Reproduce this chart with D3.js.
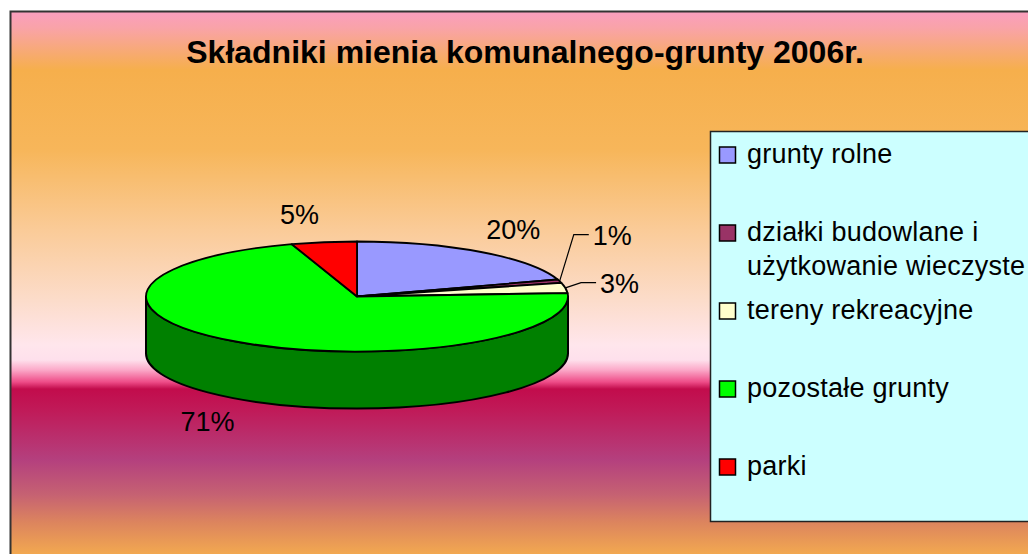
<!DOCTYPE html>
<html>
<head>
<meta charset="utf-8">
<script src="https://cdn.jsdelivr.net/npm/d3@7"></script>
<style>
  html, body { margin: 0; padding: 0; background: #ffffff; }
  svg { display: block; }
  text { font-family: "Liberation Sans", Arial, sans-serif; }
</style>
</head>
<body>
<svg id="chart" width="1028" height="554"></svg>
<script>
// ---- data ----
const title = "Składniki mienia komunalnego-grunty 2006r.";
const categories = ["grunty rolne", "działki budowlane i użytkowanie wieczyste", "tereny rekreacyjne", "pozostałe grunty", "parki"];
const values = [20, 1, 3, 71, 5];
const colors = ["#9999FF", "#993366", "#FFFFCC", "#00FF00", "#FF0000"];

// ---- layout ----
const W = 1028, H = 554;
const svg = d3.select("#chart");
const defs = svg.append("defs");

const grad = defs.append("linearGradient")
  .attr("id", "bg").attr("gradientUnits", "userSpaceOnUse")
  .attr("x1", 0).attr("y1", 11).attr("x2", 0).attr("y2", H);
[
  [11, "#FA9EC0"], [28, "#F9A3A8"], [70, "#F6AF4C"], [150, "#F7B65A"],
  [230, "#FACB98"], [300, "#FCDCCA"], [345, "#FFE6EC"], [360, "#FEE0EC"],
  [370, "#FBA8C8"], [382, "#EE4C88"], [389, "#C20C4C"], [410, "#C01A58"],
  [460, "#B4407E"], [495, "#C66272"], [522, "#DC845E"], [H, "#F2A850"]
].forEach(([y, c]) => grad.append("stop")
  .attr("offset", (y - 11) / (H - 11)).attr("stop-color", c));

// chart area frame
svg.append("rect")
  .attr("x", 10.5).attr("y", 11.5).attr("width", W + 10).attr("height", H + 10)
  .attr("fill", "url(#bg)").attr("stroke", "#333").attr("stroke-width", 2);

// title
svg.append("text")
  .attr("x", 525).attr("y", 63)
  .attr("text-anchor", "middle")
  .attr("font-weight", "bold").attr("font-size", 32).attr("fill", "#000")
  .text(title);

// ---- 3D pie ----
const cx = 357, cy = 296.5, rx = 211, ry = 55, depth = 57;
const total = d3.sum(values);
const color = d3.scaleOrdinal().domain(categories).range(colors);
const sideColor = c => { const k = d3.rgb(c); return d3.rgb(k.r * 0.5, k.g * 0.5, k.b * 0.5).formatHex(); };

const pie = d3.pie().sort(null).value(d => d.value).startAngle(0).endAngle(2 * Math.PI);
const arcs = pie(categories.map((c, i) => ({ name: c, value: values[i] })));

const pt = (a, dy = 0) => [cx + rx * Math.sin(a), cy - ry * Math.cos(a) + dy];

const g = svg.append("g");

// side walls (front half only)
arcs.forEach(d => {
  const a0 = Math.max(d.startAngle, Math.PI / 2);
  const a1 = Math.min(d.endAngle, 3 * Math.PI / 2);
  if (a1 <= a0) return;
  const p0 = pt(a0), p1 = pt(a1), q1 = pt(a1, depth), q0 = pt(a0, depth);
  const path = `M${p0}A${rx},${ry} 0 0 1 ${p1}L${q1}A${rx},${ry} 0 0 0 ${q0}Z`;
  g.append("path").attr("d", path)
    .attr("fill", sideColor(color(d.data.name)))
    .attr("stroke", "#000").attr("stroke-width", 2).attr("stroke-linejoin", "round");
});

// top faces
arcs.forEach(d => {
  const p0 = pt(d.startAngle), p1 = pt(d.endAngle);
  const large = (d.endAngle - d.startAngle) > Math.PI ? 1 : 0;
  const path = `M${cx},${cy}L${p0}A${rx},${ry} 0 ${large} 1 ${p1}Z`;
  g.append("path").attr("d", path)
    .attr("fill", color(d.data.name))
    .attr("stroke", "#000").attr("stroke-width", 1.8).attr("stroke-linejoin", "round");
});

// ---- data labels ----
const labelSize = 27;
const labels = arcs.map(d => {
  const mid = (d.startAngle + d.endAngle) / 2;
  const front = Math.cos(mid) < 0;
  return {
    d, mid,
    text: Math.round(d.value / total * 100) + "%",
    x: cx + rx * 1.26 * Math.sin(mid) + (Math.cos(mid) > 0.9 ? -16 : 0),
    y: cy - ry * 1.5 * Math.cos(mid) + (front ? depth : 0),
    small: d.value / total < 0.04
  };
});
// simple collision avoidance for small slices (push upward)
const minGap = 48;
const small = labels.filter(l => l.small).sort((a, b) => b.y - a.y);
for (let i = 1; i < small.length; i++) {
  if (small[i - 1].y - small[i].y < minGap) small[i].y = small[i - 1].y - minGap;
}

const lg = svg.append("g");
labels.forEach(l => {
  const t = lg.append("text")
    .attr("x", l.x).attr("y", l.y)
    .attr("text-anchor", "middle").attr("dominant-baseline", "central")
    .attr("font-size", labelSize).attr("fill", "#000")
    .text(l.text);
  if (l.small) {
    const w = t.node().getComputedTextLength();
    const left = l.x - w / 2;
    const p = pt(l.mid);
    const ly = l.y - 1;
    const elbowX = Math.max(p[0], left - 19);
    lg.append("polyline")
      .attr("points", [p, [elbowX, ly], [left - 4, ly]].map(q => q.join(",")).join(" "))
      .attr("fill", "none").attr("stroke", "#000").attr("stroke-width", 1.2);
  }
});

// ---- legend ----
const legX = 710, legY = 131, legH = 390;
svg.append("rect")
  .attr("x", legX + 0.5).attr("y", legY + 0.5).attr("width", W).attr("height", legH)
  .attr("fill", "#CCFFFF").attr("stroke", "#222").attr("stroke-width", 1.5);

const legFont = 27;
const rowStep = 78, firstBase = 163, lineStep = 34, maxW = 285;
const leg = svg.append("g");
categories.forEach((c, i) => {
  const base = firstBase + i * rowStep;
  leg.append("rect")
    .attr("x", 719.5).attr("y", base - 16).attr("width", 16).attr("height", 16)
    .attr("fill", color(c)).attr("stroke", "#000").attr("stroke-width", 1.5);
  const t = leg.append("text")
    .attr("x", 747).attr("y", base)
    .attr("font-size", legFont).attr("letter-spacing", 0.25).attr("fill", "#000");
  // greedy word wrap
  const words = c.split(" ");
  let line = [], lineNo = 0;
  let ts = t.append("tspan").attr("x", 747).attr("y", base);
  words.forEach(wd => {
    line.push(wd);
    ts.text(line.join(" "));
    if (ts.node().getComputedTextLength() > maxW && line.length > 1) {
      line.pop();
      ts.text(line.join(" "));
      line = [wd];
      lineNo++;
      ts = t.append("tspan").attr("x", 747).attr("y", base + lineNo * lineStep).text(wd);
    }
  });
});
</script>
</body>
</html>
